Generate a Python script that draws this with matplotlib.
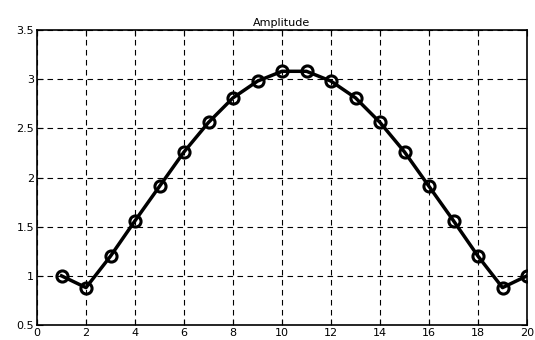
import numpy as np
import matplotlib
matplotlib.use("Agg")
import matplotlib.pyplot as plt

plt.rcParams['font.family'] = ['DejaVu Sans']
plt.rcParams['font.size'] = 8

x = np.arange(1, 21)
amp = [1.00, 0.88, 1.20, 1.56, 1.91, 2.26, 2.56, 2.81, 2.98, 3.08,
       3.08, 2.98, 2.81, 2.56, 2.26, 1.91, 1.56, 1.20, 0.88, 1.00]
xticks = np.arange(0, 21, 2)
yticks = [0.5, 1, 1.5, 2, 2.5, 3, 3.5]

fig = plt.figure(figsize=(5.35, 3.40), dpi=100)
ax = fig.add_axes([37/535, 15/340, 490/535, 295/340])

ax.plot(x, amp, 'k-', lw=2.5, marker='o', ms=8, mfc='none', mec='k', mew=2.2)
ax.set_xlim(0, 20)
ax.set_ylim(0.5, 3.5)
ax.set_xticks(xticks)
ax.set_yticks(yticks)
ax.set_yticklabels(['0.5', '1', '1.5', '2', '2.5', '3', '3.5'])
ax.grid(True, color='k', linestyle=(0, (5, 4)), lw=0.8)
ax.tick_params(direction='in', length=4, width=0.8, pad=2, labelsize=8,
               top=True, right=True)
for s in ax.spines.values():
    s.set_linewidth(1.2)
ax.set_title('Amplitude', fontsize=8, pad=3)

fig.savefig('out.png', dpi=100)
